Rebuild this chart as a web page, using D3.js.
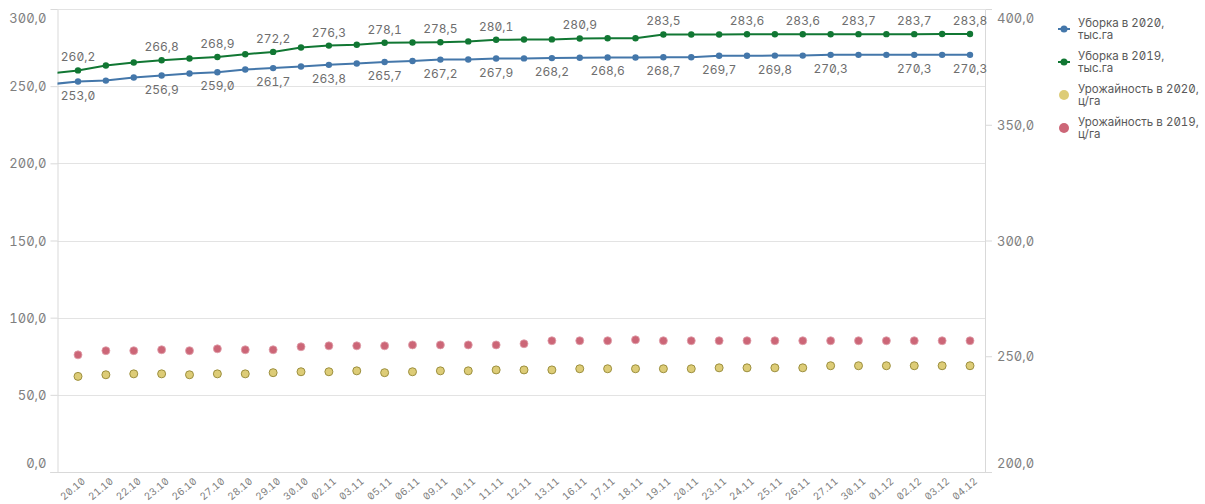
<!DOCTYPE html>
<html>
<head>
<meta charset="utf-8">
<script src="https://cdn.jsdelivr.net/npm/d3@7"></script>
<style>
  body { margin: 0; background: #fff; }
  svg text { font-family: Inter, "Noto Sans", sans-serif; font-feature-settings: "zero" 1, "tnum" 1; }
</style>
</head>
<body>
<div id="chart-area"></div>
<script>
// DATA
var dates = ["20.10", "21.10", "22.10", "23.10", "26.10", "27.10", "28.10", "29.10", "30.10",
    "02.11", "03.11", "05.11", "06.11", "09.11", "10.11", "11.11", "12.11", "13.11", "16.11",
    "17.11", "18.11", "19.11", "20.11", "23.11", "24.11", "25.11", "26.11", "27.11", "30.11",
    "01.12", "02.12", "03.12", "04.12"];

// Уборка, тыс.га (left axis)
var uborka2020 = [253.0, 253.6, 255.6, 256.9, 258.2, 259.0, 260.8, 261.7, 262.7, 263.8, 264.7,
    265.7, 266.3, 267.2, 267.3, 267.9, 268.0, 268.2, 268.4, 268.6, 268.6, 268.7, 268.7, 269.7,
    269.7, 269.8, 269.8, 270.3, 270.3, 270.3, 270.3, 270.3, 270.3];
var uborka2019 = [260.2, 263.4, 265.3, 266.8, 267.9, 268.9, 270.7, 272.2, 275.1, 276.3, 276.8,
    278.1, 278.3, 278.5, 279.0, 280.1, 280.2, 280.3, 280.9, 281.0, 281.0, 283.5, 283.5, 283.5,
    283.6, 283.6, 283.6, 283.6, 283.7, 283.7, 283.7, 283.8, 283.8];
// value of the day before 20.10 (line runs in from the left edge)
var uborka2020Prev = 251.2;
var uborka2019Prev = 258.3;

// which points carry a value label
var labels2020Idx = [0, 3, 5, 7, 9, 11, 13, 15, 17, 19, 21, 23, 25, 27, 30, 32];
var labels2019Idx = [0, 3, 5, 7, 9, 11, 13, 15, 18, 21, 24, 26, 28, 30, 32];

// Урожайность, ц/га (right axis)
var urozh2020 = [241.3, 242.0, 242.4, 242.4, 242.0, 242.4, 242.4, 242.9, 243.3, 243.3, 243.7,
    242.9, 243.3, 243.7, 243.7, 244.1, 244.1, 244.1, 244.6, 244.6, 244.6, 244.6, 244.6, 245.0,
    245.0, 245.0, 245.0, 245.9, 245.9, 245.9, 245.9, 245.9, 245.9];
var urozh2019 = [250.6, 252.4, 252.4, 252.8, 252.4, 253.2, 252.8, 252.8, 254.1, 254.5, 254.5,
    254.5, 254.9, 254.9, 254.9, 254.9, 255.4, 256.7, 256.7, 256.7, 257.1, 256.7, 256.7, 256.7,
    256.7, 256.7, 256.7, 256.7, 256.7, 256.7, 256.7, 256.7, 256.7];

var leftTicks = [0, 50, 100, 150, 200, 250, 300];
var rightTicks = [200, 250, 300, 350, 400];

var legendItems = [
    { name: ["Уборка в 2020,", "тыс.га"], color: "#4477aa", type: "line" },
    { name: ["Уборка в 2019,", "тыс.га"], color: "#117733", type: "line" },
    { name: ["Урожайность в 2020,", "ц/га"], color: "#ddcc77", type: "dot" },
    { name: ["Урожайность в 2019,", "ц/га"], color: "#cc6677", type: "dot" }
];

// LAYOUT
var W = 1205, H = 504;
var plot = { left: 57.5, right: 985, top: 9, bottom: 472 };

var ru = d3.formatLocale({ decimal: ",", thousands: " ", grouping: [3], currency: ["", ""] });
var fmt = ru.format(".1f");

var svg = d3.select("#chart-area")
    .append("svg")
    .attr("width", W)
    .attr("height", H);

// SCALES
var x = d3.scalePoint().domain(dates).range([78, 970]);
var yL = d3.scaleLinear().domain([0, 300]).range([plot.bottom, plot.top]);
var yR = d3.scaleLinear().domain([200, 400]).range([plot.bottom, plot.top]);

// GRID
svg.append("g")
    .selectAll("line")
    .data(leftTicks.slice(1))
    .enter().append("line")
    .attr("x1", plot.left).attr("x2", plot.right)
    .attr("y1", function (d) { return Math.round(yL(d)) + 0.5 })
    .attr("y2", function (d) { return Math.round(yL(d)) + 0.5 })
    .attr("stroke", "#e3e3e3");

// LEFT AXIS
var leftAxis = svg.append("g")
    .attr("transform", "translate(" + plot.left + ",0)")
    .call(d3.axisLeft(yL).tickValues(leftTicks).tickSize(7).tickPadding(4).tickFormat(fmt));
leftAxis.select(".domain").attr("stroke", "#d9d9d9");
leftAxis.selectAll(".tick line").attr("stroke", "#d9d9d9")
    .attr("display", function (d) { return d === 300 ? "none" : null });
leftAxis.selectAll(".tick text")
    .attr("fill", "#7f7f7f").attr("font-size", 13)
    .attr("dy", function (d) { return d === 300 ? "1.05em" : d === 0 ? "-0.35em" : "0.35em" });

// RIGHT AXIS
var rightAxis = svg.append("g")
    .attr("transform", "translate(" + plot.right + ",0)")
    .call(d3.axisRight(yR).tickValues(rightTicks).tickSize(7).tickPadding(5).tickFormat(fmt));
rightAxis.select(".domain").attr("stroke", "#d9d9d9");
rightAxis.selectAll(".tick line").attr("stroke", "#d9d9d9")
    .attr("display", function (d) { return d === 400 ? "none" : null });
rightAxis.selectAll(".tick text")
    .attr("fill", "#7f7f7f").attr("font-size", 13)
    .attr("dy", function (d) { return d === 400 ? "1.05em" : d === 200 ? "-0.35em" : "0.35em" });

// BOTTOM AXIS
var xAxis = svg.append("g")
    .attr("transform", "translate(0," + plot.bottom + ")")
    .call(d3.axisBottom(x).tickSize(0));
xAxis.select(".domain").remove();
xAxis.append("line")
    .attr("x1", plot.left - 7).attr("x2", plot.right + 7)
    .attr("y1", 0.5).attr("y2", 0.5)
    .attr("stroke", "#d9d9d9");
xAxis.selectAll(".tick text")
    .attr("fill", "#7f7f7f").attr("font-size", 10)
    .attr("text-anchor", "end")
    .attr("y", 0).attr("dy", "0.7em")
    .attr("transform", "translate(3,5) rotate(-40)");

// top border (300 line)
svg.append("line")
    .attr("x1", plot.left).attr("x2", plot.right)
    .attr("y1", plot.top + 0.5).attr("y2", plot.top + 0.5)
    .attr("stroke", "#e3e3e3");

// CLIP
svg.append("clipPath").attr("id", "clip")
    .append("rect")
    .attr("x", plot.left).attr("y", plot.top - 5)
    .attr("width", plot.right - plot.left).attr("height", plot.bottom - plot.top + 5);

var prevX = x(dates[0]) - x.step();

function drawLine(values, prev, color) {
    var pts = [[prevX, yL(prev)]].concat(values.map(function (v, i) { return [x(dates[i]), yL(v)] }));
    svg.append("path")
        .attr("clip-path", "url(#clip)")
        .attr("d", d3.line()(pts))
        .attr("fill", "none")
        .attr("stroke", color)
        .attr("stroke-width", 2);
    svg.append("g").selectAll("circle")
        .data(values)
        .enter().append("circle")
        .attr("cx", function (d, i) { return x(dates[i]) })
        .attr("cy", function (d) { return yL(d) })
        .attr("r", 3.2)
        .attr("fill", color);
}

drawLine(uborka2020, uborka2020Prev, "#4477aa");
drawLine(uborka2019, uborka2019Prev, "#117733");

// DATA LABELS
svg.append("g").selectAll("text")
    .data(labels2019Idx)
    .enter().append("text")
    .attr("x", function (i) { return x(dates[i]) })
    .attr("y", function (i) { return yL(uborka2019[i]) - 9 })
    .attr("text-anchor", "middle")
    .attr("fill", "#6e6e6e").attr("font-size", 12)
    .text(function (i) { return fmt(uborka2019[i]) });

svg.append("g").selectAll("text")
    .data(labels2020Idx)
    .enter().append("text")
    .attr("x", function (i) { return x(dates[i]) })
    .attr("y", function (i) { return yL(uborka2020[i]) + 18 })
    .attr("text-anchor", "middle")
    .attr("fill", "#6e6e6e").attr("font-size", 12)
    .text(function (i) { return fmt(uborka2020[i]) });

// YIELD DOTS (right axis)
svg.append("g").selectAll("circle")
    .data(urozh2019)
    .enter().append("circle")
    .attr("cx", function (d, i) { return x(dates[i]) })
    .attr("cy", function (d) { return yR(d) })
    .attr("r", 4)
    .attr("fill", "#cc6677")
    .attr("stroke", "#e0a0ab").attr("stroke-width", 0.8);

svg.append("g").selectAll("circle")
    .data(urozh2020)
    .enter().append("circle")
    .attr("cx", function (d, i) { return x(dates[i]) })
    .attr("cy", function (d) { return yR(d) })
    .attr("r", 4)
    .attr("fill", "#ddcc77")
    .attr("stroke", "#9c8f3e").attr("stroke-width", 1);

// LEGEND
var legend = svg.append("g").attr("transform", "translate(1064,0)");
var item = legend.selectAll("g")
    .data(legendItems)
    .enter().append("g")
    .attr("transform", function (d, i) { return "translate(0," + (29 + i * 33) + ")" });

item.filter(function (d) { return d.type === "line" })
    .append("line")
    .attr("x1", -6).attr("x2", 6)
    .attr("stroke", function (d) { return d.color })
    .attr("stroke-width", 2);
item.append("circle")
    .attr("r", function (d) { return d.type === "line" ? 3.5 : 5 })
    .attr("fill", function (d) { return d.color });
item.append("text")
    .attr("x", 14).attr("y", -6.5).attr("dy", "0.35em")
    .attr("fill", "#595959").attr("font-size", 11.5)
    .text(function (d) { return d.name[0] });
item.append("text")
    .attr("x", 14).attr("y", 6).attr("dy", "0.35em")
    .attr("fill", "#595959").attr("font-size", 11.5)
    .text(function (d) { return d.name[1] });
</script>
</body>
</html>
